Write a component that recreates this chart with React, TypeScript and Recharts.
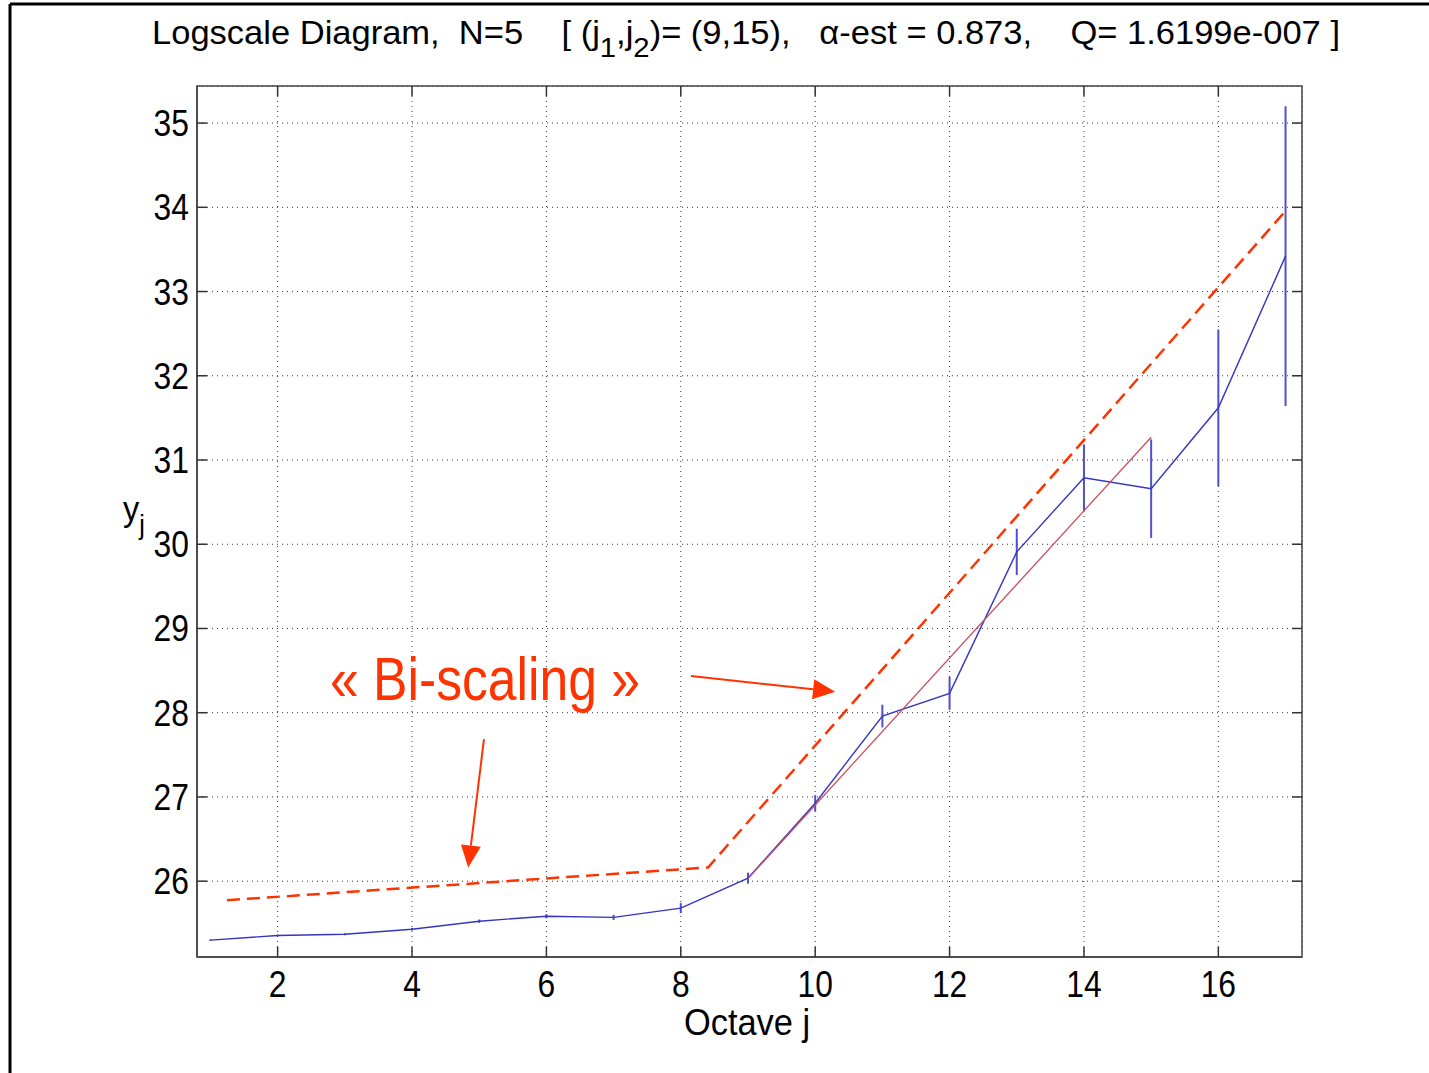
import { LineChart, Line, XAxis, YAxis, CartesianGrid, ErrorBar, ReferenceArea, ReferenceLine, ReferenceDot } from 'recharts';

// octaves and logscale values y_j with their confidence half-widths
const octaves = [1, 2, 3, 4, 5, 6, 7, 8, 9, 10, 11, 12, 13, 14, 15, 16, 17];
const yj = [25.3, 25.355, 25.37, 25.43, 25.525, 25.584, 25.57, 25.68, 26.036, 26.926, 27.96, 28.23, 29.91, 30.79, 30.66, 31.62, 33.42];
const yjErr = [0.01, 0.012, 0.012, 0.015, 0.02, 0.025, 0.03, 0.06, 0.065, 0.095, 0.135, 0.195, 0.275, 0.395, 0.585, 0.93, 1.78];

// regression over (j1, j2) = (9, 15)
const fitJ = [9, 15];
const fitY = [26.03, 31.27];

// hand-drawn "bi-scaling" guide
const guideJ = [1.246, 8.405, 17];
const guideY = [25.774, 26.163, 33.957];

// annotation arrows [fromJ, fromY, toJ, toY]
const arrows = [
  [8.152, 28.435, 10.296, 28.25],
  [5.071, 27.686, 4.836, 26.163],
];

const xTicks = [2, 4, 6, 8, 10, 12, 14, 16];
const yTicks = [26, 27, 28, 29, 30, 31, 32, 33, 34, 35];

const W = 1429;
const H = 1073;
const PL = 197;
const PR = 1302;
const PT = 86;
const PB = 957;
const FONT = '"Liberation Sans", Arial, Helvetica, sans-serif';
const ORANGE = '#ff3300';

const data = octaves.map((j, i) => ({ j, y: yj[i], err: yjErr[i] }));
const fitData = fitJ.map((j, i) => ({ j, y: fitY[i] }));
const guideData = guideJ.map((j, i) => ({ j, y: guideY[i] }));

// text slightly condensed like the original export
const Narrow = ({ x, y, anchor, size, sx = 0.86, children }: any) => (
  <g transform={`translate(${x},${y}) scale(${sx},1)`}>
    <text x={0} y={0} textAnchor={anchor} fontSize={size} fontFamily={FONT} fill="#000">
      {children}
    </text>
  </g>
);

const XTick = (p: any) => (
  <g>
    <line x1={p.x} x2={p.x} y1={PB} y2={PB - 10} stroke="#333" strokeWidth={1.5} />
    <line x1={p.x} x2={p.x} y1={PT} y2={PT + 10} stroke="#333" strokeWidth={1.5} />
    <Narrow x={p.x} y={PB + 40} anchor="middle" size={37}>{p.payload.value}</Narrow>
  </g>
);

const YTick = (p: any) => (
  <g>
    <line x1={PL} x2={PL + 10} y1={p.y} y2={p.y} stroke="#333" strokeWidth={1.5} />
    <line x1={PR - 10} x2={PR} y1={p.y} y2={p.y} stroke="#333" strokeWidth={1.5} />
    <Narrow x={189} y={p.y + 13} anchor="end" size={37}>{p.payload.value}</Narrow>
  </g>
);

const Arrow = (p: any) => {
  const { x1, y1, x2, y2 } = p;
  const a = Math.atan2(y2 - y1, x2 - x1);
  const len = 22;
  const half = 10;
  const bx = x2 - len * Math.cos(a);
  const by = y2 - len * Math.sin(a);
  const nx = -Math.sin(a) * half;
  const ny = Math.cos(a) * half;
  return (
    <g>
      <line x1={x1} y1={y1} x2={bx} y2={by} stroke={ORANGE} strokeWidth={2} />
      <polygon points={`${x2},${y2} ${bx + nx},${by + ny} ${bx - nx},${by - ny}`} fill={ORANGE} />
    </g>
  );
};

const BiLabel = (p: any) => (
  <text x={p.cx} y={p.cy} textAnchor="middle" fontSize={62} fontFamily={FONT} fill={ORANGE}
    textLength={310} lengthAdjust="spacingAndGlyphs">
    « Bi-scaling »
  </text>
);

export default function App() {
  return (
    <div style={{ position: 'relative', width: W, height: H, background: '#fff', overflow: 'hidden' }}>
      <style>{'body{margin:0}'}</style>
      <LineChart width={W} height={H} data={data} margin={{ top: PT, right: W - PR, left: PL - 70, bottom: H - PB - 60 }}>
        <CartesianGrid stroke="#333" strokeDasharray="1 4" horizontal vertical />
        <XAxis type="number" dataKey="j" domain={[0.8, 17.245]} ticks={xTicks} allowDataOverflow
          height={60} tick={<XTick />} tickLine={false} axisLine={{ stroke: '#444', strokeWidth: 1.5 }} />
        <YAxis type="number" domain={[25.1, 35.44]} ticks={yTicks} allowDataOverflow
          width={70} tick={<YTick />} tickLine={false} axisLine={{ stroke: '#444', strokeWidth: 1.5 }} />
        <ReferenceArea x1={0.8} x2={17.245} y1={25.1} y2={35.44} fill="none" stroke="#444" strokeWidth={1.5} />
        <Line dataKey="y" stroke="#3535c0" strokeWidth={1.4} dot={false} isAnimationActive={false}>
          <ErrorBar dataKey="err" direction="y" width={0} stroke="#4f4fd0" strokeWidth={2} isAnimationActive={false} />
        </Line>
        <Line data={fitData} dataKey="y" stroke="#c8505f" strokeWidth={1.3} dot={false} isAnimationActive={false} />
        <Line data={guideData} dataKey="y" stroke={ORANGE} strokeWidth={2.5} strokeDasharray="13 7" dot={false} isAnimationActive={false} />
        {arrows.map((a, i) => (
          <ReferenceLine key={i} segment={[{ x: a[0], y: a[1] }, { x: a[2], y: a[3] }]} shape={<Arrow />} />
        ))}
        <ReferenceDot x={5.086} y={28.15} r={0} shape={<BiLabel />} />
      </LineChart>
      <svg width={W} height={H} style={{ position: 'absolute', left: 0, top: 0, pointerEvents: 'none' }}>
        <line x1={10} y1={4} x2={W} y2={4} stroke="#000" strokeWidth={3} />
        <line x1={10} y1={4} x2={10} y2={H} stroke="#000" strokeWidth={3} />
        <text x={746} y={44} textAnchor="middle" fontSize={33} fontFamily={FONT} fill="#000"
          textLength={1188} lengthAdjust="spacingAndGlyphs" style={{ whiteSpace: 'pre' }}>
          {'Logscale Diagram,  N=5    [ (j'}
          <tspan dy={13} fontSize={28}>1</tspan>
          <tspan dy={-13}>{',j'}</tspan>
          <tspan dy={13} fontSize={28}>2</tspan>
          <tspan dy={-13}>{')= (9,15),   α-est = 0.873,    Q= 1.6199e-007 ]'}</tspan>
        </text>
        <g transform="translate(123,521) scale(0.9,1)">
          <text x={0} y={0} fontSize={36} fontFamily={FONT} fill="#000">
            y<tspan dy={13} fontSize={28}>j</tspan>
          </text>
        </g>
        <Narrow x={747} y={1035} anchor="middle" size={37} sx={0.93}>Octave j</Narrow>
      </svg>
    </div>
  );
}
